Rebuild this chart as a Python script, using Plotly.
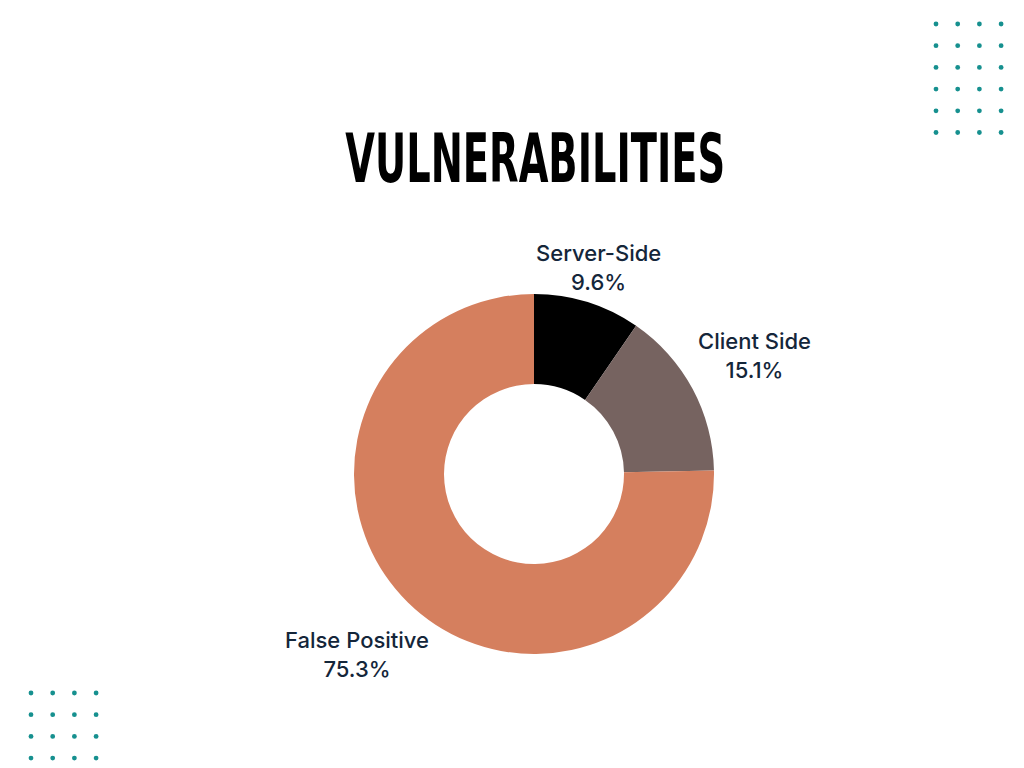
import math
import plotly.graph_objects as go

# Data
labels = ["Server-Side", "Client Side", "False Positive"]
values = [9.6, 15.1, 75.3]
colors = ["#000000", "#766360", "#D57F5E"]

TEXT_COLOR = "#14263A"
DOT_COLOR = "#16908F"
W, H = 1024, 768
PAD = 8  # body margin of the page shifts the figure by 8px

# pie geometry in page pixels
CX, CY, R = 534, 474, 180
LABEL_GAP = 182      # distance from pie centre to the nearest edge of a label box
LABEL_SIZE = 22


def px(x):
    return (x - PAD) / W


def py(y):
    return 1 - (y - PAD) / H


fig = go.Figure()

fig.add_trace(go.Pie(
    labels=labels,
    values=values,
    hole=0.5,
    sort=False,
    direction="clockwise",
    rotation=0,
    marker=dict(colors=colors, line=dict(width=0)),
    textinfo="none",
    showlegend=False,
    hoverinfo="label+percent",
    domain=dict(x=[px(CX - R), px(CX + R)], y=[py(CY + R), py(CY - R)]),
))


def label_distance(s, c, hw, hh):
    # push the label box out along the ray until its nearest edge sits at LABEL_GAP
    lo, hi = 0.0, 600.0
    for _ in range(60):
        t = (lo + hi) / 2
        dx = max(abs(t * s) - hw, 0)
        dy = max(abs(t * c) - hh, 0)
        if math.hypot(dx, dy) < LABEL_GAP:
            lo = t
        else:
            hi = t
    return lo


# slice labels, placed along each slice's middle angle
annotations = []
total = sum(values)
cum = 0
for lab, v in zip(labels, values):
    mid = (cum + v / 2) / total * 2 * math.pi
    cum += v
    s, c = math.sin(mid), math.cos(mid)
    hw = len(lab) * 0.53 * LABEL_SIZE / 2
    hh = 25
    t = label_distance(s, c, hw, hh)
    annotations.append(dict(
        text=f"{lab}<br>{v / total * 100:.1f}%",
        x=px(CX + t * s), y=py(CY - t * c), xref="paper", yref="paper",
        xanchor="center", yanchor="middle", showarrow=False, align="center",
        font=dict(family="Inter, Open Sans, sans-serif", size=LABEL_SIZE, weight=500, color=TEXT_COLOR),
    ))

annotations.append(dict(
    text="VULNERABILITIES",
    x=px(535), y=py(158), xref="paper", yref="paper",
    xanchor="center", yanchor="middle", showarrow=False,
    font=dict(family="DejaVu Sans, sans-serif", size=68, weight=700, color="#000000"),
))

# decorative dot grids (top right 4x6, bottom left 4x4)
shapes = []


def dot_grid(x0, y0, ncols, nrows, step=21.7, r=2.4):
    for i in range(ncols):
        for j in range(nrows):
            cx = x0 + i * step
            cy = y0 + j * step
            shapes.append(dict(
                type="circle", xref="paper", yref="paper",
                x0=px(cx - r), x1=px(cx + r), y0=py(cy + r), y1=py(cy - r),
                fillcolor=DOT_COLOR, line=dict(width=0),
            ))


dot_grid(936, 24, 4, 6)
dot_grid(31, 693, 4, 4)

fig.update_layout(
    width=W,
    height=H,
    margin=dict(l=0, r=0, t=0, b=0),
    paper_bgcolor="white",
    plot_bgcolor="white",
    shapes=shapes,
    annotations=annotations,
)

# squeeze the title horizontally to mimic a condensed display face
post_script = """
var gd = document.getElementById('{plot_id}');
function squeezeTitle() {
  gd.querySelectorAll('text.annotation-text').forEach(function(t) {
    if (t.textContent !== 'VULNERABILITIES') return;
    t.removeAttribute('transform');
    var bb = t.getBBox();
    var cx = bb.x + bb.width / 2;
    var s = 380 / bb.width;
    t.setAttribute('transform', 'translate(' + cx + ',0) scale(' + s + ',1) translate(' + (-cx) + ',0)');
  });
}
squeezeTitle();
gd.on('plotly_afterplot', squeezeTitle);
"""

fig.write_html("out.html", post_script=post_script)
